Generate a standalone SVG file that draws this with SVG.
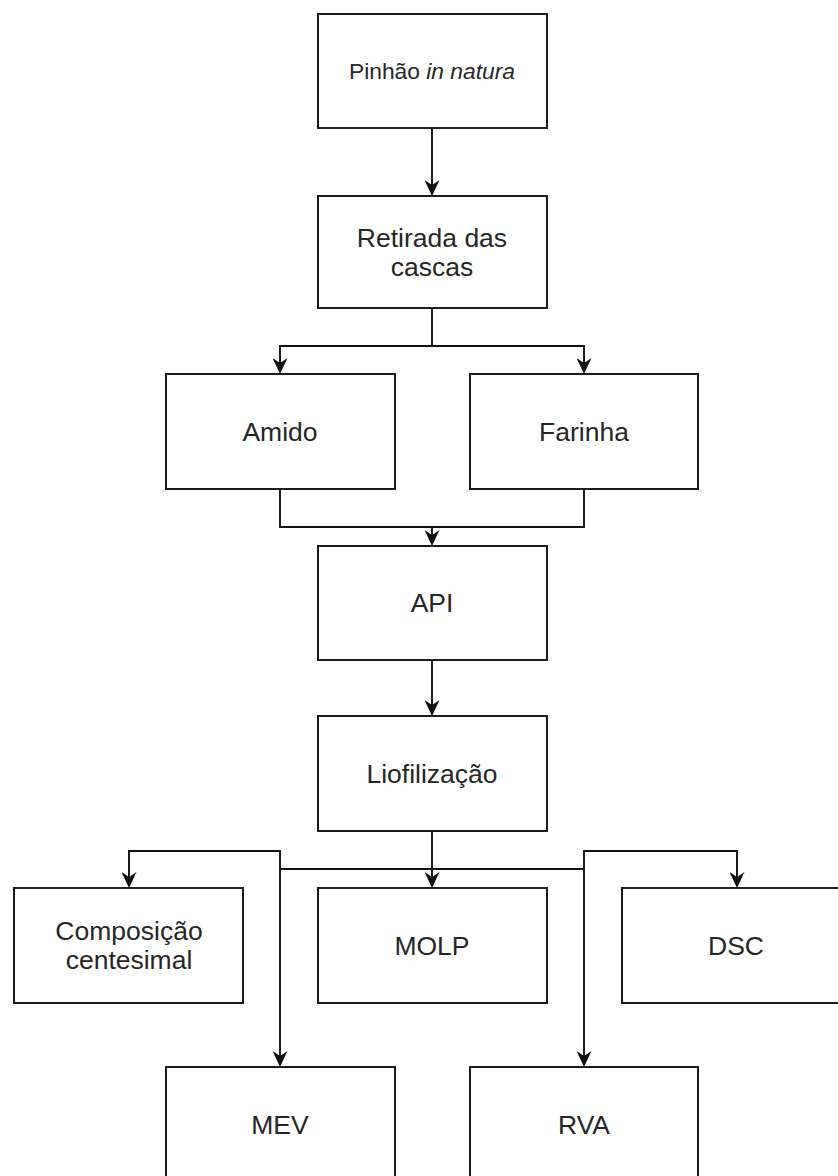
<svg xmlns="http://www.w3.org/2000/svg" width="838" height="1176" viewBox="0 0 838 1176">
  <style>
    .box { fill: #ffffff; stroke: #111111; stroke-width: 1.9; }
    .lbl { font-family: "Liberation Sans", Arial, sans-serif; font-size: 26.5px; fill: #262626; text-anchor: middle; }
    .small { font-size: 22.8px; }
    .wire { fill: none; stroke: #111111; stroke-width: 1.9; }
  </style>
  <defs>
    <marker id="arrow" markerUnits="userSpaceOnUse" viewBox="0 0 16 15" markerWidth="16" markerHeight="15" refX="5" refY="7.5" orient="auto">
      <path d="M0,0 L16,7.5 L0,15 L5,7.5 Z" fill="#111111"/>
    </marker>
  </defs>
  <rect width="838" height="1176" fill="#ffffff"/>

  <!-- connectors -->
  <g id="connectors">
    <path class="wire" d="M432,128 V185" marker-end="url(#arrow)"/>
    <path class="wire" d="M432,308 V346 H280 V363" marker-end="url(#arrow)"/>
    <path class="wire" d="M432,346 H584 V363" marker-end="url(#arrow)"/>
    <path class="wire" d="M280,489 V527 H432 V535" marker-end="url(#arrow)"/>
    <path class="wire" d="M584,489 V527 H432"/>
    <path class="wire" d="M432,660 V705" marker-end="url(#arrow)"/>
    <path class="wire" d="M432,831 V877" marker-end="url(#arrow)"/>
    <path class="wire" d="M280,869 V851 H129 V877" marker-end="url(#arrow)"/>
    <path class="wire" d="M584,869 V851 H737 V877" marker-end="url(#arrow)"/>
    <path class="wire" d="M280,869 V1056" marker-end="url(#arrow)"/>
    <path class="wire" d="M584,869 V1056" marker-end="url(#arrow)"/>
    <!-- shared bus under Liofilização -->
    <path class="wire" d="M280,869 H584" stroke-width="3"/>
  </g>

  <!-- nodes -->
  <g id="pinhao">
    <rect class="box" x="318" y="14" width="229" height="114"/>
    <text class="lbl small" x="432" y="79">Pinhão <tspan font-style="italic">in natura</tspan></text>
  </g>
  <g id="retirada">
    <rect class="box" x="318" y="196" width="229" height="112"/>
    <text class="lbl" x="432" y="247">Retirada das</text>
    <text class="lbl" x="432" y="276">cascas</text>
  </g>
  <g id="amido">
    <rect class="box" x="166" y="374" width="229" height="115"/>
    <text class="lbl" x="280" y="441">Amido</text>
  </g>
  <g id="farinha">
    <rect class="box" x="470" y="374" width="228" height="115"/>
    <text class="lbl" x="584" y="441">Farinha</text>
  </g>
  <g id="api">
    <rect class="box" x="318" y="546" width="229" height="114"/>
    <text class="lbl" x="432" y="612">API</text>
  </g>
  <g id="liofilizacao">
    <rect class="box" x="318" y="716" width="229" height="115"/>
    <text class="lbl" x="432" y="783">Liofilização</text>
  </g>
  <g id="composicao">
    <rect class="box" x="14" y="888" width="229" height="115"/>
    <text class="lbl" x="129" y="940">Composição</text>
    <text class="lbl" x="129" y="969">centesimal</text>
  </g>
  <g id="molp">
    <rect class="box" x="318" y="888" width="229" height="115"/>
    <text class="lbl" x="432" y="955">MOLP</text>
  </g>
  <g id="dsc">
    <rect class="box" x="622" y="888" width="228" height="115"/>
    <text class="lbl" x="736" y="955">DSC</text>
  </g>
  <g id="mev">
    <rect class="box" x="166" y="1067" width="229" height="115"/>
    <text class="lbl" x="280" y="1134">MEV</text>
  </g>
  <g id="rva">
    <rect class="box" x="470" y="1067" width="228" height="115"/>
    <text class="lbl" x="584" y="1134">RVA</text>
  </g>
</svg>
